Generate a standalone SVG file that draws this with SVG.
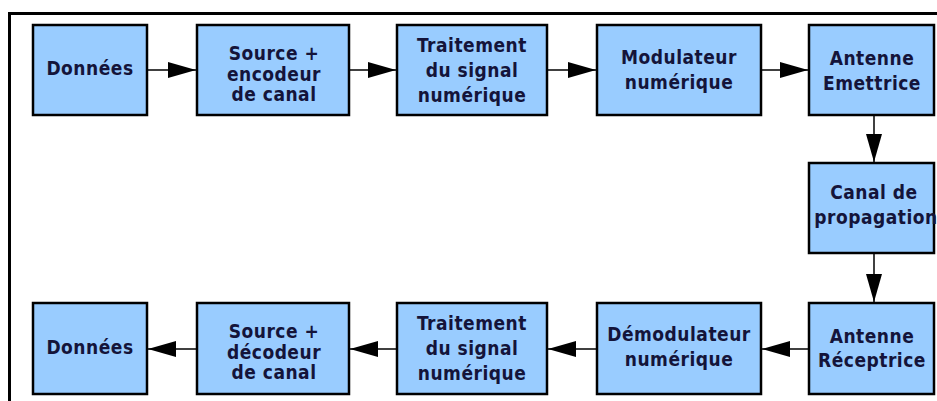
<svg xmlns="http://www.w3.org/2000/svg" width="937" height="401" viewBox="0 0 937 401">
<style>
.box{fill:#99ccff;stroke:#000;stroke-width:2.5}
.t{font-family:"DejaVu Sans Condensed","DejaVu Sans","Liberation Sans",sans-serif;font-stretch:condensed;font-weight:bold;font-size:19px;letter-spacing:0.5px;fill:#14143a;text-anchor:middle}
.c{stroke:#000;stroke-width:1.5;fill:none;marker-end:url(#ah)}
.frame{stroke:#000;stroke-width:3;fill:none}
</style>
<defs>
<marker id="ah" viewBox="0 0 28 16" refX="28" refY="8" markerWidth="28" markerHeight="16" markerUnits="userSpaceOnUse" orient="auto">
<path d="M0,0 L28,8 L0,16 z" fill="#000"/>
</marker>
</defs>
<rect width="937" height="401" fill="#fff"/>
<path class="frame" d="M9.5,401 V13.5 H937"/>
<g id="connectors">
<line class="c" x1="148" y1="70" x2="196" y2="70"/>
<line class="c" x1="350" y1="70" x2="396" y2="70"/>
<line class="c" x1="548" y1="70" x2="596" y2="70"/>
<line class="c" x1="762" y1="70" x2="808" y2="70"/>
<line class="c" x1="874" y1="116" x2="874" y2="162"/>
<line class="c" x1="874" y1="254" x2="874" y2="302"/>
<line class="c" x1="808" y1="349" x2="762" y2="349"/>
<line class="c" x1="596" y1="349" x2="548" y2="349"/>
<line class="c" x1="396" y1="349" x2="350" y2="349"/>
<line class="c" x1="196" y1="349" x2="148" y2="349"/>
</g>
<g id="donnees1"><rect class="box" x="33" y="25" width="114" height="90"/><text class="t" x="90" y="75">Données</text></g>
<g id="source1"><rect class="box" x="197" y="25" width="152" height="90"/><text class="t" x="274" y="60">Source +</text><text class="t" x="274" y="80.5">encodeur</text><text class="t" x="274" y="101">de canal</text></g>
<g id="traitement1"><rect class="box" x="397" y="25" width="150" height="90"/><text class="t" x="472" y="51.5">Traitement</text><text class="t" x="472" y="76.5">du signal</text><text class="t" x="472" y="101.5">numérique</text></g>
<g id="modulateur"><rect class="box" x="597" y="25" width="164" height="90"/><text class="t" x="679" y="63.5">Modulateur</text><text class="t" x="679" y="89">numérique</text></g>
<g id="antenne-e"><rect class="box" x="809" y="25" width="125" height="90"/><text class="t" x="872" y="64.5">Antenne</text><text class="t" x="872" y="90">Emettrice</text></g>
<g id="canal"><rect class="box" x="809" y="163" width="125" height="90"/><text class="t" x="874" y="199">Canal de</text><text class="t" x="876" y="224">propagation</text></g>
<g id="antenne-r"><rect class="box" x="809" y="303" width="125" height="91"/><text class="t" x="872" y="343">Antenne</text><text class="t" x="872" y="367">Réceptrice</text></g>
<g id="demodulateur"><rect class="box" x="597" y="303" width="164" height="91"/><text class="t" x="679" y="340.5">Démodulateur</text><text class="t" x="679" y="366">numérique</text></g>
<g id="traitement2"><rect class="box" x="397" y="303" width="150" height="91"/><text class="t" x="472" y="330">Traitement</text><text class="t" x="472" y="355">du signal</text><text class="t" x="472" y="380">numérique</text></g>
<g id="source2"><rect class="box" x="197" y="303" width="152" height="91"/><text class="t" x="274" y="338">Source +</text><text class="t" x="274" y="358.5">décodeur</text><text class="t" x="274" y="379">de canal</text></g>
<g id="donnees2"><rect class="box" x="33" y="303" width="114" height="91"/><text class="t" x="90" y="354">Données</text></g>
</svg>
